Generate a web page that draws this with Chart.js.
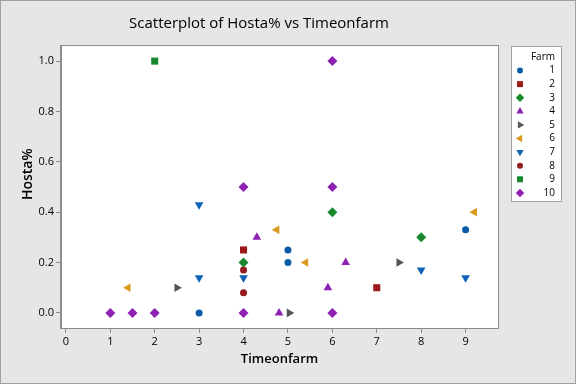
<!DOCTYPE html>
<html>
<head>
<meta charset="utf-8">
<script src="https://cdn.jsdelivr.net/npm/chart.js@4"></script>
<style>
  html, body { margin: 0; padding: 0; background: #e6e6e6; }
  canvas { display: block; }
</style>
</head>
<body>
<canvas id="chart" width="576" height="384"></canvas>
<script>
// Hosta% vs Timeonfarm, one series per farm
const farms = ["1", "2", "3", "4", "5", "6", "7", "8", "9", "10"];

const farm1X = [3, 5, 5, 9];
const farm1Y = [0, 0.25, 0.2, 0.33];
const farm2X = [4, 7];
const farm2Y = [0.25, 0.1];
const farm3X = [4, 6, 8];
const farm3Y = [0.2, 0.4, 0.3];
const farm4X = [4.3, 6.3, 5.9, 4.8];
const farm4Y = [0.3, 0.2, 0.1, 0];
const farm5X = [2.5, 5.03, 7.5];
const farm5Y = [0.1, 0, 0.2];
const farm6X = [1.4, 4.75, 5.4, 9.2];
const farm6Y = [0.1, 0.33, 0.2, 0.4];
const farm7X = [3, 3, 4, 8, 9];
const farm7Y = [0.43, 0.14, 0.14, 0.17, 0.14];
const farm8X = [4, 4];
const farm8Y = [0.17, 0.08];
const farm9X = [2];
const farm9Y = [1.0];
const farm10X = [1, 1.5, 2, 4, 4, 6, 6, 6];
const farm10Y = [0, 0, 0, 0.5, 0, 1.0, 0.5, 0];

const xTicks = [0, 1, 2, 3, 4, 5, 6, 7, 8, 9];
const yTicks = [0, 0.2, 0.4, 0.6, 0.8, 1.0];

const allX = [farm1X, farm2X, farm3X, farm4X, farm5X, farm6X, farm7X, farm8X, farm9X, farm10X];
const allY = [farm1Y, farm2Y, farm3Y, farm4Y, farm5Y, farm6Y, farm7Y, farm8Y, farm9Y, farm10Y];

// marker look per farm (Minitab-like symbols)
const styles = [
  { color: "#0b5ca8", shape: "circle", rot: 0, r: 3.5 },
  { color: "#9e1a1a", shape: "rect", rot: 0, r: 5 },
  { color: "#17892c", shape: "rectRot", rot: 0, r: 5 },
  { color: "#8d22b3", shape: "triangle", rot: 0, r: 5 },
  { color: "#555555", shape: "triangle", rot: 90, r: 5 },
  { color: "#d99a1f", shape: "triangle", rot: 270, r: 5 },
  { color: "#0e62b5", shape: "triangle", rot: 180, r: 5 },
  { color: "#951c1c", shape: "circle", rot: 0, r: 3.5 },
  { color: "#17892c", shape: "rect", rot: 0, r: 5 },
  { color: "#8d22b3", shape: "rectRot", rot: 0, r: 5 },
];

const FONT = "'Open Sans', 'Noto Sans', sans-serif";

const datasets = farms.map((name, i) => ({
  label: name,
  data: allX[i].map((x, j) => ({ x: x, y: allY[i][j] })),
  pointStyle: styles[i].shape,
  rotation: styles[i].rot,
  pointRadius: styles[i].r,
  pointHoverRadius: styles[i].r,
  backgroundColor: styles[i].color,
  borderColor: styles[i].color,
  borderWidth: 0,
}));

// background, white plot area and its frame
const framePlugin = {
  id: "frame",
  beforeDraw(chart) {
    const { ctx, chartArea: a } = chart;
    ctx.save();
    ctx.fillStyle = "#e6e6e6";
    ctx.fillRect(0, 0, chart.width, chart.height);
    ctx.fillStyle = "#ffffff";
    ctx.fillRect(a.left, a.top, a.right - a.left, a.bottom - a.top);
    ctx.restore();
  },
  beforeDatasetsDraw(chart) {
    const { ctx, chartArea: a } = chart;
    ctx.save();
    ctx.strokeStyle = "#8c8c8c";
    ctx.lineWidth = 1;
    ctx.strokeRect(a.left - 0.5, a.top - 0.5, a.right - a.left + 1, a.bottom - a.top + 1);
    ctx.restore();
  },
  afterDraw(chart) {
    const ctx = chart.ctx;
    ctx.save();
    ctx.strokeStyle = "#a0a0a0";
    ctx.strokeRect(0.5, 0.5, chart.width - 1, chart.height - 1);
    ctx.restore();
  },
};

// boxed legend on the right, like Minitab's
const legendPlugin = {
  id: "farmLegend",
  afterDraw(chart) {
    const ctx = chart.ctx;
    const boxL = 511, boxT = 46, boxW = 51, boxH = 156;
    ctx.save();
    ctx.fillStyle = "#ffffff";
    ctx.fillRect(boxL, boxT, boxW, boxH);
    ctx.strokeStyle = "#a0a0a0";
    ctx.strokeRect(boxL + 0.5, boxT + 0.5, boxW - 1, boxH - 1);
    ctx.fillStyle = "#000";
    ctx.font = "10px " + FONT;
    ctx.textAlign = "right";
    ctx.textBaseline = "middle";
    ctx.fillText("Farm", 555, 57);
    farms.forEach((name, i) => {
      const y = 70.5 + i * 13.6;
      ctx.fillStyle = "#000";
      ctx.fillText(name, 555, y);
      ctx.fillStyle = styles[i].color;
      ctx.strokeStyle = styles[i].color;
      Chart.helpers.drawPoint(ctx, {
        pointStyle: styles[i].shape,
        rotation: styles[i].rot,
        radius: styles[i].r * 0.85,
        borderWidth: 0,
      }, 520, y);
    });
    ctx.restore();
  },
};

new Chart(document.getElementById("chart"), {
  type: "scatter",
  data: { datasets },
  plugins: [framePlugin, legendPlugin],
  options: {
    responsive: false,
    animation: false,
    events: [],
    layout: { padding: { left: 20, right: 78, top: 0, bottom: 0 } },
    plugins: {
      legend: { display: false },
      tooltip: { enabled: false },
      title: {
        display: true,
        text: "Scatterplot of Hosta% vs Timeonfarm",
        color: "#000",
        font: { family: FONT, size: 15, weight: "500" },
        padding: { top: 15, bottom: 13 },
      },
    },
    scales: {
      x: {
        type: "linear",
        min: -0.11,
        max: 9.73,
        afterBuildTicks(scale) {
          scale.ticks = xTicks.map((v) => ({ value: v }));
        },
        afterFit(scale) {
          scale.height = 56;
        },
        ticks: {
          color: "#000",
          font: { family: FONT, size: 11 },
          padding: 2,
          callback: (v) => String(v),
        },
        grid: { drawOnChartArea: false, drawTicks: true, tickLength: 5, color: "#8c8c8c" },
        border: { display: true, color: "#8c8c8c" },
        title: {
          display: true,
          text: "Timeonfarm",
          color: "#000",
          font: { family: FONT, size: 13, weight: "600" },
          padding: { top: 0, bottom: 17 },
        },
      },
      y: {
        type: "linear",
        min: -0.06,
        max: 1.06,
        afterBuildTicks(scale) {
          scale.ticks = yTicks.map((v) => ({ value: v }));
        },
        afterFit(scale) {
          scale.width = 41;
        },
        ticks: {
          color: "#000",
          font: { family: FONT, size: 11 },
          padding: 2,
          callback: (v) => v.toFixed(1),
        },
        grid: { drawOnChartArea: false, drawTicks: true, tickLength: 5, color: "#8c8c8c" },
        border: { display: true, color: "#8c8c8c" },
        title: {
          display: true,
          text: "       Hosta%",
          color: "#000",
          font: { family: FONT, size: 14, weight: "600" },
          padding: { top: 0, bottom: 0 },
        },
      },
    },
  },
});
</script>
</body>
</html>
